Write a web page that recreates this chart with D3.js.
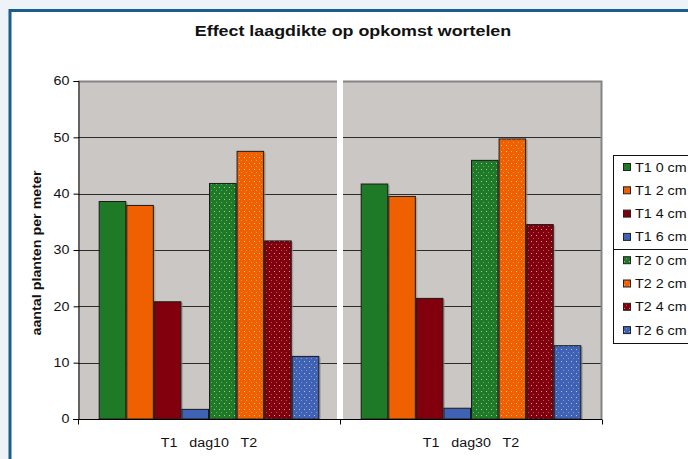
<!DOCTYPE html>
<html>
<head>
<meta charset="utf-8">
<script src="https://cdn.jsdelivr.net/npm/d3@7"></script>
<style>
  html, body { margin: 0; padding: 0; background: #eef3f7; }
  svg { display: block; font-family: "Liberation Sans", Arial, sans-serif; }
</style>
</head>
<body>
<div id="chart"></div>
<script>
// data
const groups = ["T1   dag10   T2", "T1   dag30   T2"];
const series = ["T1 0 cm", "T1 2 cm", "T1 4 cm", "T1 6 cm", "T2 0 cm", "T2 2 cm", "T2 4 cm", "T2 6 cm"];
const dag10 = [38.7, 38.0, 20.9, 1.8, 41.9, 47.6, 31.7, 11.2];
const dag30 = [41.8, 39.6, 21.5, 2.0, 46.0, 49.8, 34.6, 13.1];
const yTicks = [0, 10, 20, 30, 40, 50, 60];

const colors = ["#1f7a28", "#ee6000", "#82000e", "#3f62b4"];
const dotted = [false, false, false, false, true, true, true, true];

const width = 688, height = 459;
const stretch = 1.19; // text in the original is a bit wider than Arial

// widen a text selection horizontally, keeping its anchor
function widen(sel) {
  sel.each(function () {
    const len = this.getComputedTextLength();
    d3.select(this)
      .attr("textLength", len * stretch)
      .attr("lengthAdjust", "spacingAndGlyphs");
  });
}

const svg = d3.select("#chart").append("svg")
  .attr("width", width)
  .attr("height", height);

// page frame
svg.append("rect")
  .attr("x", 0).attr("y", 0).attr("width", width).attr("height", height)
  .attr("fill", "#eef3f7");
svg.append("rect")
  .attr("x", 10).attr("y", 10.5).attr("width", 700).attr("height", 470)
  .attr("fill", "#fff")
  .attr("stroke", "#1b5d8c")
  .attr("stroke-width", 3);

// dot patterns for T2 bars
const defs = svg.append("defs");
colors.forEach((c, i) => {
  const p = defs.append("pattern")
    .attr("id", "dots" + i)
    .attr("patternUnits", "userSpaceOnUse")
    .attr("width", 5).attr("height", 6);
  p.append("rect").attr("width", 5).attr("height", 6).attr("fill", c);
  p.append("rect").attr("x", 1).attr("y", 1).attr("width", 1).attr("height", 1)
    .attr("fill", "#fff").attr("opacity", 0.6);
  p.append("rect").attr("x", 3).attr("y", 4).attr("width", 1).attr("height", 1)
    .attr("fill", "#fff").attr("opacity", 0.35);
});

// scales
const x0 = d3.scaleBand().domain(groups).range([78, 602]);
const x1 = d3.scaleBand().domain(series).range([0, x0.bandwidth()])
  .paddingInner(0).paddingOuter(0.75);
const y = d3.scaleLinear().domain([0, 60]).range([419, 81]);

// plot area
svg.append("rect")
  .attr("x", 78).attr("y", y(60))
  .attr("width", 524).attr("height", y(0) - y(60))
  .attr("fill", "#cbc7c4");

// gridlines
svg.append("g").selectAll("line")
  .data(yTicks.filter(d => d > 0 && d < 60))
  .join("line")
  .attr("x1", 78).attr("x2", 602)
  .attr("y1", d => Math.round(y(d)) + 0.5)
  .attr("y2", d => Math.round(y(d)) + 0.5)
  .attr("stroke", "#2b2b2b")
  .attr("stroke-width", 1);

// top and right border of plot area
svg.append("path")
  .attr("d", `M78,${y(60) + 0.5}H601.5V${y(0)}`)
  .attr("fill", "none")
  .attr("stroke", "#858383")
  .attr("stroke-width", 2);

// bars
const tables = [dag10, dag30];
groups.forEach((g, gi) => {
  const gr = svg.append("g").attr("transform", `translate(${x0(g)},0)`);
  const vals = tables[gi].map((v, i) => ({ s: series[i], v, i }));
  gr.selectAll("rect.shadow")
    .data(vals)
    .join("rect")
    .attr("class", "shadow")
    .attr("x", d => x1(d.s) + 1.5)
    .attr("y", d => y(d.v) + 1.5)
    .attr("width", x1.bandwidth())
    .attr("height", d => y(0) - y(d.v) - 1.5)
    .attr("fill", "#8f8c8a")
    .attr("opacity", 0.6);
  gr.selectAll("rect.bar")
    .data(vals)
    .join("rect")
    .attr("class", "bar")
    .attr("x", d => x1(d.s) + 0.5)
    .attr("y", d => y(d.v) + 0.5)
    .attr("width", x1.bandwidth() - 1)
    .attr("height", d => y(0) - y(d.v) - 0.5)
    .attr("fill", d => dotted[d.i] ? `url(#dots${d.i % 4})` : colors[d.i % 4])
    .attr("stroke", "#1a1a1a")
    .attr("stroke-width", 1);
});

// white gap between the two panels
svg.append("rect")
  .attr("x", x0(groups[1]) - 3).attr("y", y(60) - 1)
  .attr("width", 6).attr("height", y(0) - y(60) + 1)
  .attr("fill", "#fff");

// y axis
const yAxis = svg.append("g")
  .attr("transform", "translate(78.5,0)")
  .call(d3.axisLeft(y).tickValues(yTicks).tickSize(5).tickPadding(4).tickFormat(d3.format("d")));
yAxis.select(".domain").attr("stroke", "#000");
yAxis.selectAll(".tick line").attr("stroke", "#000");
yAxis.selectAll(".tick text")
  .attr("font-family", "Liberation Sans, Arial, sans-serif")
  .attr("font-size", 12).attr("fill", "#111")
  .call(widen);

// x axis
const xAxis = svg.append("g").attr("transform", `translate(0,${y(0) + 0.5})`);
xAxis.append("line")
  .attr("x1", 73).attr("x2", 602)
  .attr("stroke", "#000");
xAxis.selectAll("line.tick")
  .data([78, x0(groups[1]), 602])
  .join("line")
  .attr("class", "tick")
  .attr("x1", d => Math.round(d) + 0.5).attr("x2", d => Math.round(d) + 0.5)
  .attr("y1", 0).attr("y2", 5)
  .attr("stroke", "#000");
xAxis.selectAll("text")
  .data(groups)
  .join("text")
  .attr("x", d => x0(d) + x0.bandwidth() / 2)
  .attr("y", 27)
  .attr("text-anchor", "middle")
  .attr("font-size", 12)
  .attr("fill", "#111")
  .attr("xml:space", "preserve")
  .style("white-space", "pre")
  .text(d => d)
  .call(widen);

// title
svg.append("text")
  .attr("x", 353).attr("y", 36)
  .attr("text-anchor", "middle")
  .attr("font-size", 15)
  .attr("font-weight", "bold")
  .attr("fill", "#111")
  .text("Effect laagdikte op opkomst wortelen")
  .call(widen);

// y axis title
svg.append("text")
  .attr("transform", "translate(41,253) rotate(-90)")
  .attr("text-anchor", "middle")
  .attr("font-size", 12)
  .attr("font-weight", "bold")
  .attr("fill", "#111")
  .text("aantal planten per meter")
  .call(widen);

// legend
const legend = svg.append("g");
legend.append("rect")
  .attr("x", 613.5).attr("y", 155.5)
  .attr("width", 90).attr("height", 188)
  .attr("fill", "#fff").attr("stroke", "#111");
legend.append("line")
  .attr("x1", 613).attr("x2", 700)
  .attr("y1", 249.5).attr("y2", 249.5)
  .attr("stroke", "#111");
const item = legend.selectAll("g.item")
  .data(series)
  .join("g")
  .attr("class", "item")
  .attr("transform", (d, i) => `translate(623,${167 + i * 23.3})`);
item.append("rect")
  .attr("x", 0.5).attr("y", -3.5)
  .attr("width", 7).attr("height", 7)
  .attr("fill", (d, i) => dotted[i] ? `url(#dots${i % 4})` : colors[i % 4])
  .attr("stroke", "#222");
item.append("text")
  .attr("x", 12).attr("y", 4.5)
  .attr("font-size", 12)
  .attr("fill", "#111")
  .text(d => d)
  .call(widen);
</script>
</body>
</html>
